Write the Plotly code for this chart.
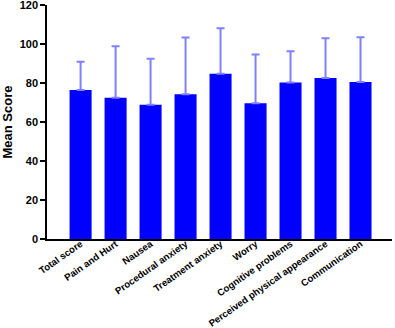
import plotly.graph_objects as go

categories = ["Total score", "Pain and Hurt", "Nausea", "Procedural anxiety",
              "Treatment anxiety", "Worry", "Cognitive problems",
              "Perceived physical appearance", "Communication"]
means = [76.4, 72.4, 68.8, 74.2, 84.8, 69.6, 80.3, 82.6, 80.5]
upper = [90.9, 98.9, 92.4, 103.3, 108.1, 94.6, 96.3, 103.0, 103.5]
sd = [u - m for u, m in zip(upper, means)]

fig = go.Figure()
fig.add_trace(go.Bar(
    x=list(range(len(categories))), y=means,
    width=0.63,
    marker=dict(color="#0000ff", line=dict(width=0)),
    error_y=dict(type="data", array=sd, arrayminus=[0]*len(sd), symmetric=False,
                 color="#8080ff", thickness=2, width=4),
))

font_family = "Liberation Sans, Arial, sans-serif"
fig.update_layout(
    width=395, height=328,
    margin=dict(l=47, r=3, t=5, b=89, autoexpand=False),
    paper_bgcolor="white", plot_bgcolor="white",
    showlegend=False,
    font=dict(family=font_family, color="black", weight="bold"),
    xaxis=dict(
        range=[-0.96, 8.9], automargin=False,
        tickmode="array", tickvals=list(range(len(categories))), ticktext=categories,
        tickangle=-35, tickfont=dict(size=9.6, family=font_family, weight="bold"),
        ticklabeloverflow="allow", ticklabelstandoff=-6,
        showline=True, linecolor="black", linewidth=1.5,
        ticks="", showgrid=False, zeroline=False,
    ),
    yaxis=dict(
        range=[0, 120], automargin=False,
        tickmode="array", tickvals=[0, 20, 40, 60, 80, 100, 120],
        ticks="outside", ticklen=5, tickwidth=1.5, tickcolor="black",
        tickfont=dict(size=11, family=font_family, weight="bold"),
        ticklabeloverflow="allow",
        showline=True, linecolor="black", linewidth=1.5,
        showgrid=False, zeroline=False,
        title=dict(text="Mean Score", font=dict(size=13, family=font_family, weight="bold"),
                   standoff=8),
    ),
)

fig.write_html("out.html", config={"displayModeBar": False},
               post_script="document.body.style.margin='0';document.body.style.overflow='hidden';")
